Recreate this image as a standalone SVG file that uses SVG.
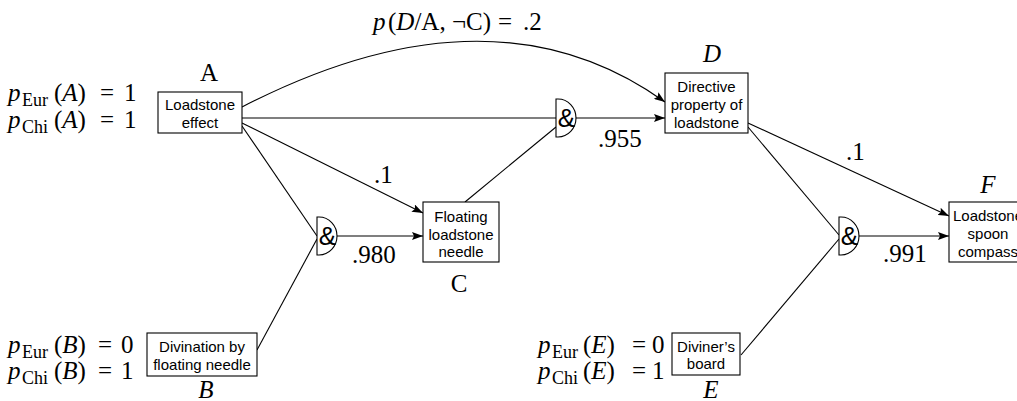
<svg xmlns="http://www.w3.org/2000/svg" width="1017" height="401" viewBox="0 0 1017 401">
  <style>
    .box { fill: #fff; stroke: #000; stroke-width: 1.1; }
    .lbl { font-family: "Liberation Sans", Arial, sans-serif; font-size: 15px; fill: #000; text-anchor: middle; }
    .math { font-family: "Liberation Serif", "Times New Roman", serif; font-size: 25px; fill: #000; }
    .it { font-style: italic; }
    .sub { font-size: 18px; }
    .mid { text-anchor: middle; }
    .edge { fill: none; stroke: #000; stroke-width: 1.1; }
    .gate { fill: #fff; stroke: #000; stroke-width: 1.1; }
    .amp { font-family: "Liberation Sans", Arial, sans-serif; font-size: 26px; text-anchor: middle; fill: #000; }
  </style>
  <defs>
    <marker id="arr" markerWidth="11" markerHeight="8" refX="11" refY="4" orient="auto" markerUnits="userSpaceOnUse">
      <path d="M0,0 L11,4 L0,8 L2,4 Z" fill="#000"/>
    </marker>
    <!-- AND junction: flat back, rounded front -->
    <path id="andgate" d="M0,-19 H2 A18,19 0 0 1 2,19 H0 Z"/>
  </defs>

  <!-- connectors -->
  <g id="connectors">
    <path class="edge" d="M242,107 Q492,-22 665,102" marker-end="url(#arr)"/>
    <path class="edge" d="M242,118 H556"/>
    <path class="edge" d="M242,123 L423,213" marker-end="url(#arr)"/>
    <path class="edge" d="M242,126 L317,236"/>
    <path class="edge" d="M257,350 L317,239"/>
    <path class="edge" d="M337,236 H423" marker-end="url(#arr)"/>
    <path class="edge" d="M465,202 L556,127"/>
    <path class="edge" d="M575,118 H665" marker-end="url(#arr)"/>
    <path class="edge" d="M748,123 L949,216" marker-end="url(#arr)"/>
    <path class="edge" d="M748,127 L839,235"/>
    <path class="edge" d="M741,355 L839,239"/>
    <path class="edge" d="M858,236 H949" marker-end="url(#arr)"/>
  </g>

  <!-- edge probabilities -->
  <g id="edge-labels">
    <text class="math" x="373" y="30"><tspan class="it">p</tspan><tspan x="388">(</tspan><tspan class="it">D</tspan>/A, ¬C)<tspan x="498">=</tspan><tspan x="523">.2</tspan></text>
    <text class="math" x="598" y="147">.955</text>
    <text class="math" x="352" y="263">.980</text>
    <text class="math" x="883" y="262">.991</text>
    <text class="math" x="374" y="183">.1</text>
    <text class="math" x="846" y="160">.1</text>
  </g>

  <!-- A: loadstone effect -->
  <g id="node-A">
    <rect class="box" x="158" y="92" width="84" height="41"/>
    <text class="lbl" x="200" y="110">Loadstone</text>
    <text class="lbl" x="200" y="128">effect</text>
    <text class="math mid" x="209" y="81">A</text>
    <text class="math" x="8" y="101"><tspan class="it">p</tspan><tspan class="sub" x="22" dy="5">Eur</tspan><tspan x="54" dy="-5">(</tspan><tspan class="it">A</tspan>)<tspan x="100">=</tspan><tspan x="124">1</tspan></text>
    <text class="math" x="8" y="128"><tspan class="it">p</tspan><tspan class="sub" x="22" dy="5">Chi</tspan><tspan x="54" dy="-5">(</tspan><tspan class="it">A</tspan>)<tspan x="100">=</tspan><tspan x="124">1</tspan></text>
  </g>

  <!-- B: divination by floating needle -->
  <g id="node-B">
    <rect class="box" x="147" y="333" width="110" height="43"/>
    <text class="lbl" x="202" y="352">Divination by</text>
    <text class="lbl" x="202" y="370">floating needle</text>
    <text class="math it mid" x="206" y="398">B</text>
    <text class="math" x="8" y="353"><tspan class="it">p</tspan><tspan class="sub" x="22" dy="5">Eur</tspan><tspan x="54" dy="-5">(</tspan><tspan class="it">B</tspan>)<tspan x="98">=</tspan><tspan x="121">0</tspan></text>
    <text class="math" x="8" y="379"><tspan class="it">p</tspan><tspan class="sub" x="22" dy="5">Chi</tspan><tspan x="54" dy="-5">(</tspan><tspan class="it">B</tspan>)<tspan x="98">=</tspan><tspan x="121">1</tspan></text>
  </g>

  <!-- C: floating loadstone needle -->
  <g id="node-C">
    <rect class="box" x="423" y="202" width="76" height="60"/>
    <text class="lbl" x="461" y="222">Floating</text>
    <text class="lbl" x="461" y="240">loadstone</text>
    <text class="lbl" x="461" y="257">needle</text>
    <text class="math mid" x="459" y="292">C</text>
  </g>

  <!-- D: directive property of loadstone -->
  <g id="node-D">
    <rect class="box" x="665" y="73" width="83" height="60"/>
    <text class="lbl" x="706.5" y="92">Directive</text>
    <text class="lbl" x="706.5" y="110">property of</text>
    <text class="lbl" x="706.5" y="128">loadstone</text>
    <text class="math it mid" x="712" y="62">D</text>
  </g>

  <!-- E: diviner's board -->
  <g id="node-E">
    <rect class="box" x="672" y="333" width="68" height="42"/>
    <text class="lbl" x="706" y="352">Diviner’s</text>
    <text class="lbl" x="706" y="369">board</text>
    <text class="math it mid" x="711" y="398">E</text>
    <text class="math" x="538" y="353"><tspan class="it">p</tspan><tspan class="sub" x="552" dy="5">Eur</tspan><tspan x="583" dy="-5">(</tspan><tspan class="it">E</tspan>)<tspan x="632">=</tspan><tspan x="652">0</tspan></text>
    <text class="math" x="538" y="379"><tspan class="it">p</tspan><tspan class="sub" x="552" dy="5">Chi</tspan><tspan x="583" dy="-5">(</tspan><tspan class="it">E</tspan>)<tspan x="632">=</tspan><tspan x="652">1</tspan></text>
  </g>

  <!-- F: loadstone spoon compass -->
  <g id="node-F">
    <rect class="box" x="949" y="202" width="78" height="60"/>
    <text class="lbl" x="988" y="221">Loadstone</text>
    <text class="lbl" x="988" y="239">spoon</text>
    <text class="lbl" x="988" y="257">compass</text>
    <text class="math it mid" x="988" y="193">F</text>
  </g>

  <!-- AND junctions -->
  <g id="and-1">
    <use href="#andgate" class="gate" x="317" y="236"/>
    <text class="amp" x="327.5" y="245">&amp;</text>
  </g>
  <g id="and-2">
    <use href="#andgate" class="gate" x="556" y="118"/>
    <text class="amp" x="566.5" y="127">&amp;</text>
  </g>
  <g id="and-3">
    <use href="#andgate" class="gate" x="839" y="236"/>
    <text class="amp" x="849.5" y="245">&amp;</text>
  </g>
</svg>
